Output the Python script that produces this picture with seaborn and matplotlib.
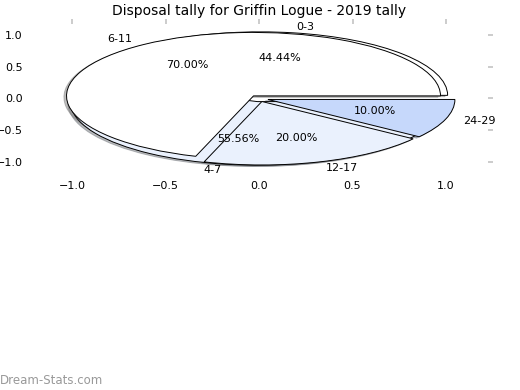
import matplotlib
matplotlib.use("Agg")
import matplotlib.pyplot as plt
import seaborn as sns

# --- Data ---
# first pie
labels_a = ["0-3", "4-7"]
values_a = [4, 5]
# second pie
labels_b = ["6-11", "12-17", "24-29"]
values_b = [7, 2, 1]

pie_colors = ["#ffffff", "#eaf1fd", "#c6d8fb"]

sns.set_style("white")
plt.rcParams['font.family'] = ['DejaVu Sans']
plt.rcParams['text.color'] = 'black'

fig = plt.figure(figsize=(5.2, 3.9), dpi=100)
ax = fig.add_axes([0.0486, 0.544, 0.899, 0.407])

wedge_style = {'edgecolor': 'black', 'linewidth': 0.7}
shadow_style = {'ox': -0.01, 'oy': -0.015, 'shade': 0.5}

# --- Graph: two pies drawn on the same axes ---
ax.pie(values_a, labels=labels_a, autopct='%.2f%%', explode=[0.05] * len(values_a),
       shadow=shadow_style, colors=pie_colors[:len(values_a)], wedgeprops=wedge_style,
       textprops={'fontsize': 8, 'color': 'black'})
ax.pie(values_b, labels=labels_b, autopct='%.2f%%', explode=[0.05] * len(values_b),
       shadow=shadow_style, colors=pie_colors[:len(values_b)], wedgeprops=wedge_style,
       textprops={'fontsize': 8, 'color': 'black'})

ax.set_aspect('auto')
ax.set_xlim(-1.25, 1.25)
ax.set_ylim(-1.25, 1.25)
ticks = [-1.0, -0.5, 0.0, 0.5, 1.0]
ax.set_xticks(ticks)
ax.set_yticks(ticks)
ax.tick_params(axis='both', which='both', direction='in', length=3.5, width=1.2,
               color='#c4c4c4', labelcolor='black', labelsize=8, pad=2,
               top=True, right=True, labeltop=False, labelright=False)
for s in ax.spines.values():
    s.set_visible(False)
ax.set_title("Disposal tally for Griffin Logue - 2019 tally", fontsize=10,
             pad=3, color='black')

fig.text(0.0, 0.015, "Dream-Stats.com", fontsize=8.5, color='#999999')

plt.savefig("out.png", dpi=100)
